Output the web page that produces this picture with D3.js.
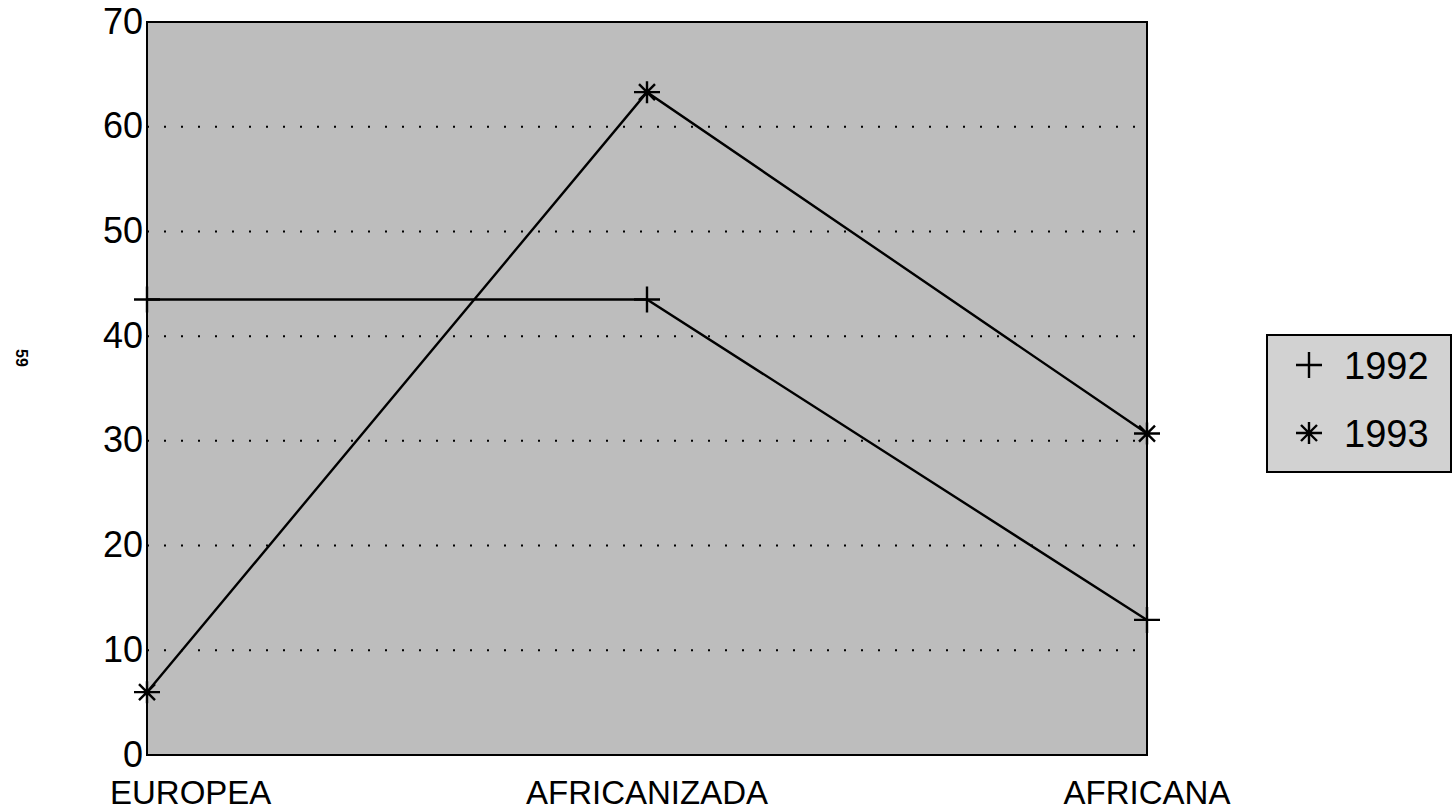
<!DOCTYPE html>
<html>
<head>
<meta charset="utf-8">
<script src="https://cdn.jsdelivr.net/npm/d3@7"></script>
<style>
body { margin: 0; background: #fff; }
text { font-family: "Liberation Sans", Arial, sans-serif; fill: #000; }
</style>
</head>
<body>
<script>
// data
let categories = ["EUROPEA", "AFRICANIZADA", "AFRICANA"];
let series92 = [43.5, 43.5, 12.9];
let series93 = [6.0, 63.3, 30.7];
let yTicks = [0, 10, 20, 30, 40, 50, 60, 70];
let legendNames = ["1992", "1993"];

let W = 1453, H = 810;
let margin = {top: 22, right: 306, bottom: 55, left: 147},
	width = W - margin.left - margin.right,
	height = H - margin.top - margin.bottom;

let x = d3.scalePoint().domain(categories).range([0, width]).padding(0),
	y = d3.scaleLinear().domain([0, 70]).range([height, 0]);

let svg = d3.select("body").append("svg")
	.attr("width", W)
	.attr("height", H);

let g = svg.append("g")
	.attr("transform", "translate(" + margin.left + "," + margin.top + ")");

// plot background
g.append("rect")
	.attr("x", 0).attr("y", 0)
	.attr("width", width).attr("height", height)
	.attr("fill", "#bdbdbd")
	.attr("stroke", "#000")
	.attr("stroke-width", 2);

// dotted grid
g.selectAll(".grid")
	.data(yTicks.filter(d => d > 0 && d < 70))
	.enter().append("line")
	.attr("x1", 0).attr("x2", width)
	.attr("y1", d => y(d)).attr("y2", d => y(d))
	.attr("stroke", "#000")
	.attr("stroke-width", 2)
	.attr("stroke-dasharray", "2,15");

// y tick labels
g.selectAll(".ylab")
	.data(yTicks)
	.enter().append("text")
	.attr("x", -4)
	.attr("y", d => y(d))
	.attr("dy", "0.32em")
	.attr("text-anchor", "end")
	.style("font-size", "36px")
	.text(d => d);

// category labels
g.selectAll(".xlab")
	.data(categories)
	.enter().append("text")
	.attr("y", height + 49)
	.attr("text-anchor", "middle")
	.style("font-size", "33px")
	.text(d => d)
	.attr("x", function(d) {
		let w = this.getComputedTextLength();
		return Math.max(x(d), -37 + w / 2);
	});

let line = d3.line()
	.x((d, i) => x(categories[i]))
	.y(d => y(d));

[series92, series93].forEach(s => {
	g.append("path")
		.attr("d", line(s))
		.attr("fill", "none")
		.attr("stroke", "#000")
		.attr("stroke-width", 2.4);
});

function plus(sel, cx, cy) {
	sel.append("path")
		.attr("d", "M" + (cx - 13) + "," + cy + "H" + (cx + 13) + "M" + cx + "," + (cy - 13) + "V" + (cy + 13))
		.attr("stroke", "#000").attr("stroke-width", 2.4).attr("fill", "none");
}
function star(sel, cx, cy) {
	let r = 11, d = 8;
	sel.append("path")
		.attr("d", "M" + (cx - 13) + "," + cy + "H" + (cx + 13) +
			"M" + cx + "," + (cy - r) + "V" + (cy + r) +
			"M" + (cx - d) + "," + (cy - d) + "L" + (cx + d) + "," + (cy + d) +
			"M" + (cx - d) + "," + (cy + d) + "L" + (cx + d) + "," + (cy - d))
		.attr("stroke", "#000").attr("stroke-width", 2.4).attr("fill", "none");
}

series92.forEach((v, i) => plus(g, x(categories[i]), y(v)));
series93.forEach((v, i) => star(g, x(categories[i]), y(v)));

// legend
let leg = svg.append("g").attr("transform", "translate(1267,335)");
leg.append("rect")
	.attr("x", 0).attr("y", 0)
	.attr("width", 184).attr("height", 137)
	.attr("fill", "#d2d2d2")
	.attr("stroke", "#000")
	.attr("stroke-width", 2);
let markers = [plus, star];
legendNames.forEach((n, i) => {
	let cy = 30 + i * 68;
	markers[i](leg, 42, cy);
	leg.append("text")
		.attr("x", 77).attr("y", cy)
		.attr("dy", "0.36em")
		.style("font-size", "38px")
		.text(n);
});

// page number in margin
svg.append("text")
	.attr("transform", "translate(16,358) rotate(90)")
	.attr("text-anchor", "middle")
	.style("font-size", "16px")
	.style("font-weight", "bold")
	.text("59");
</script>
</body>
</html>
